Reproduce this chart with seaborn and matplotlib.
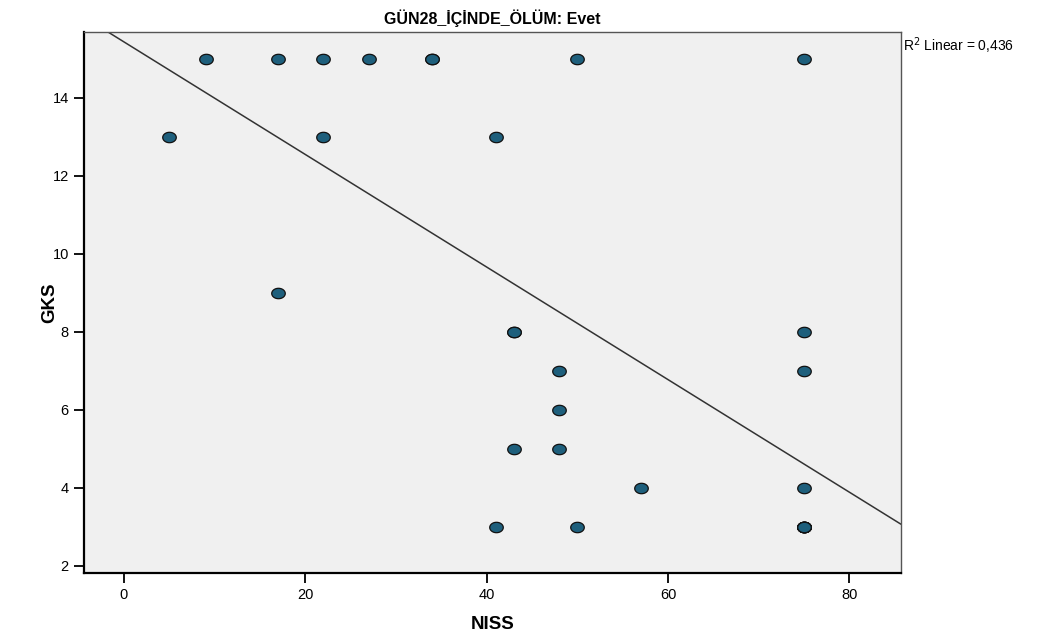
import numpy as np
import pandas as pd
import matplotlib
matplotlib.use("Agg")
import matplotlib.pyplot as plt
from matplotlib.path import Path
import seaborn as sns

# NISS / GKS values (repeated points are drawn on top of each other)
niss = [9, 17, 22, 27, 34, 34, 50, 75,
        5, 22, 41,
        17,
        43, 43, 75,
        48, 75,
        48,
        43, 48,
        57, 75,
        41, 50, 75, 75, 75, 75, 75, 75]
gks = [15, 15, 15, 15, 15, 15, 15, 15,
       13, 13, 13,
       9,
       8, 8, 8,
       7, 7,
       6,
       5, 5,
       4, 4,
       3, 3, 3, 3, 3, 3, 3, 3]
title = "GÜN28_İÇİNDE_ÖLÜM: Evet"
r2_label = "R$^2$ Linear = 0,436"

df = pd.DataFrame({"NISS": niss, "GKS": gks})

sns.set_style("white")
plt.rcParams["font.family"] = ["Liberation Sans Narrow", "Liberation Sans", "DejaVu Sans"]
plt.rcParams["text.color"] = "black"
plt.rcParams["axes.labelcolor"] = "black"
plt.rcParams["xtick.color"] = "black"
plt.rcParams["ytick.color"] = "black"

fig = plt.figure(figsize=(10.57, 6.37), dpi=100)
ax = fig.add_axes([0.0795, 0.1005, 0.7729, 0.8493])
ax.set_facecolor("#f0f0f0")
ax.set_xlim(-4.4, 85.7)
ax.set_ylim(1.82, 15.69)

# ellipse shaped marker like the SPSS one
t = np.linspace(0, 2 * np.pi, 60)
ell = Path(np.column_stack([1.3 * np.cos(t), np.sin(t)]), closed=True)

sns.regplot(data=df, x="NISS", y="GKS", scatter=False, ci=None, truncate=False,
            line_kws={"color": "#333333", "lw": 1.1}, ax=ax)
sns.scatterplot(data=df, x="NISS", y="GKS", marker=ell, s=95, color="#1e5f7c",
                edgecolor="#111111", linewidth=0.9, ax=ax, zorder=3)
ax.set_xlim(-4.4, 85.7)
ax.set_ylim(1.82, 15.69)

ax.set_xticks([0, 20, 40, 60, 80])
ax.set_yticks([2, 4, 6, 8, 10, 12, 14])
ax.tick_params(axis="both", direction="out", length=7, width=1.3, color="black",
               labelcolor="black", labelsize=10.5, pad=4)
ax.tick_params(axis="both", which="both", bottom=True, left=True)
for side in ["top", "right"]:
    ax.spines[side].set_color("#555555")
    ax.spines[side].set_linewidth(1.0)
for side in ["left", "bottom"]:
    ax.spines[side].set_color("black")
    ax.spines[side].set_linewidth(1.6)

ax.set_xlabel("NISS", fontsize=13.5, fontweight="bold", labelpad=10)
ax.set_ylabel("GKS", fontsize=13.5, fontweight="bold", labelpad=-4)
ax.set_title(title, fontsize=11.5, fontweight="bold", pad=6)
ax.text(1.002, 0.975, r2_label, transform=ax.transAxes, fontsize=10,
        ha="left", va="center")

fig.savefig("out.png", dpi=100)
